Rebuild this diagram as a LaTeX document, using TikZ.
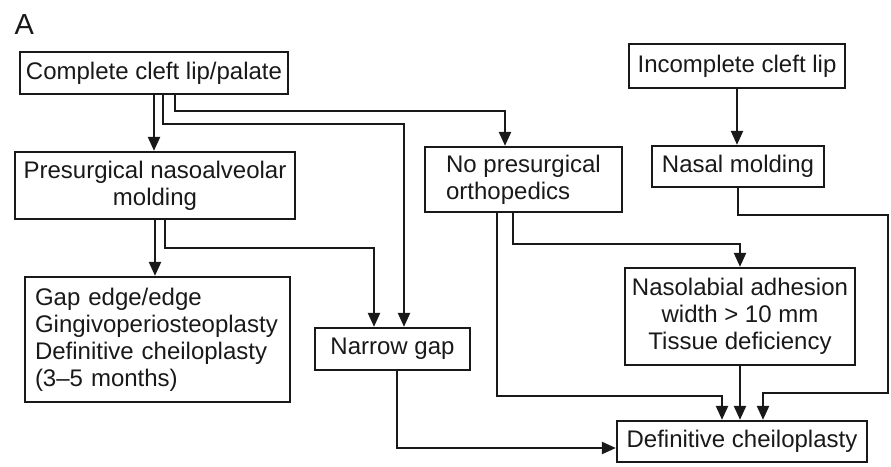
\documentclass[tikz,border=0pt]{standalone}
\usepackage{fontspec}
\setmainfont{Liberation Sans}
\usetikzlibrary{arrows.meta}
\begin{document}
\begin{tikzpicture}[x=1pt,y=-1pt,
  box/.style={draw=black!90,line width=2.3pt,inner sep=0pt,align=center,
    font=\fontsize{24}{27}\selectfont,text=black!90},
  arr/.style={draw=black!90,line width=2.3pt,-{Triangle[length=14pt,width=12pt]}},
  ln/.style={draw=black!90,line width=2.3pt}]
\useasboundingbox (0,0) rectangle (891,466);
\node[anchor=base west,font=\fontsize{29}{30}\selectfont,text=black!90] (lbl) at (11,34) {A};
\node[box,minimum width=268pt,minimum height=42pt] (cl) at (154,73) {Complete cleft lip/palate};
\node[box,minimum width=280pt,minimum height=67pt] (pnm) at (155,185.5) {Presurgical nasoalveolar\\molding};
\node[box,minimum width=265pt,minimum height=125pt,text width=245pt,align=left] (gap) at (157.5,339.5) {Gap edge/edge\\Gingivoperiosteoplasty\\Definitive cheiloplasty\\(3--5 months)};
\node[box,minimum width=197pt,minimum height=65pt,align=left] (npo) at (523.5,179.5) {No presurgical\\orthopedics};
\node[box,minimum width=216pt,minimum height=44pt] (icl) at (737,66) {Incomplete cleft lip};
\node[box,minimum width=172pt,minimum height=41pt] (nm) at (738,166.5) {Nasal molding};
\node[box,minimum width=155pt,minimum height=42pt] (nar) at (392.5,349) {Narrow gap};
\node[box,minimum width=230pt,minimum height=97pt] (nla) at (740,316.5) {Nasolabial adhesion\\width {>} 10 mm\\Tissue deficiency};
\node[box,minimum width=250pt,minimum height=41pt] (dc) at (742,441.5) {Definitive cheiloplasty};
% from complete cleft lip/palate
\draw[arr] (cl.south) -- (cl.south |- pnm.north);
\draw[arr] ([xshift=9pt]cl.south) -- ++(0,29) -| ([xshift=11.5pt]nar.north);
\draw[arr] ([xshift=21pt]cl.south) -- ++(0,16) -| ([xshift=-18.5pt]npo.north);
% from presurgical nasoalveolar molding
\draw[arr] (pnm.south) -- (pnm.south |- gap.north);
\draw[arr] ([xshift=10pt]pnm.south) -- ++(0,28) -| ([xshift=-18.5pt]nar.north);
% narrow gap
\draw[arr] ([xshift=4.5pt]nar.south) |- ([yshift=-6.5pt]dc.west);
% no presurgical orthopedics
\draw[arr] ([xshift=-26.5pt]npo.south) -- ++(0,183) -| ([xshift=-20pt]dc.north);
\draw[arr] ([xshift=-10.5pt]npo.south) -- ++(0,31) -| (nla.north);
% incomplete cleft lip
\draw[arr] (icl.south) -- (icl.south |- nm.north);
\draw[arr] (nm.south) -- ++(0,27) -- ++(150,0) -- ++(0,178) -| ([xshift=21pt]dc.north);
% nasolabial adhesion
\draw[arr] (nla.south) -- (nla.south |- dc.north);
\end{tikzpicture}
\end{document}
